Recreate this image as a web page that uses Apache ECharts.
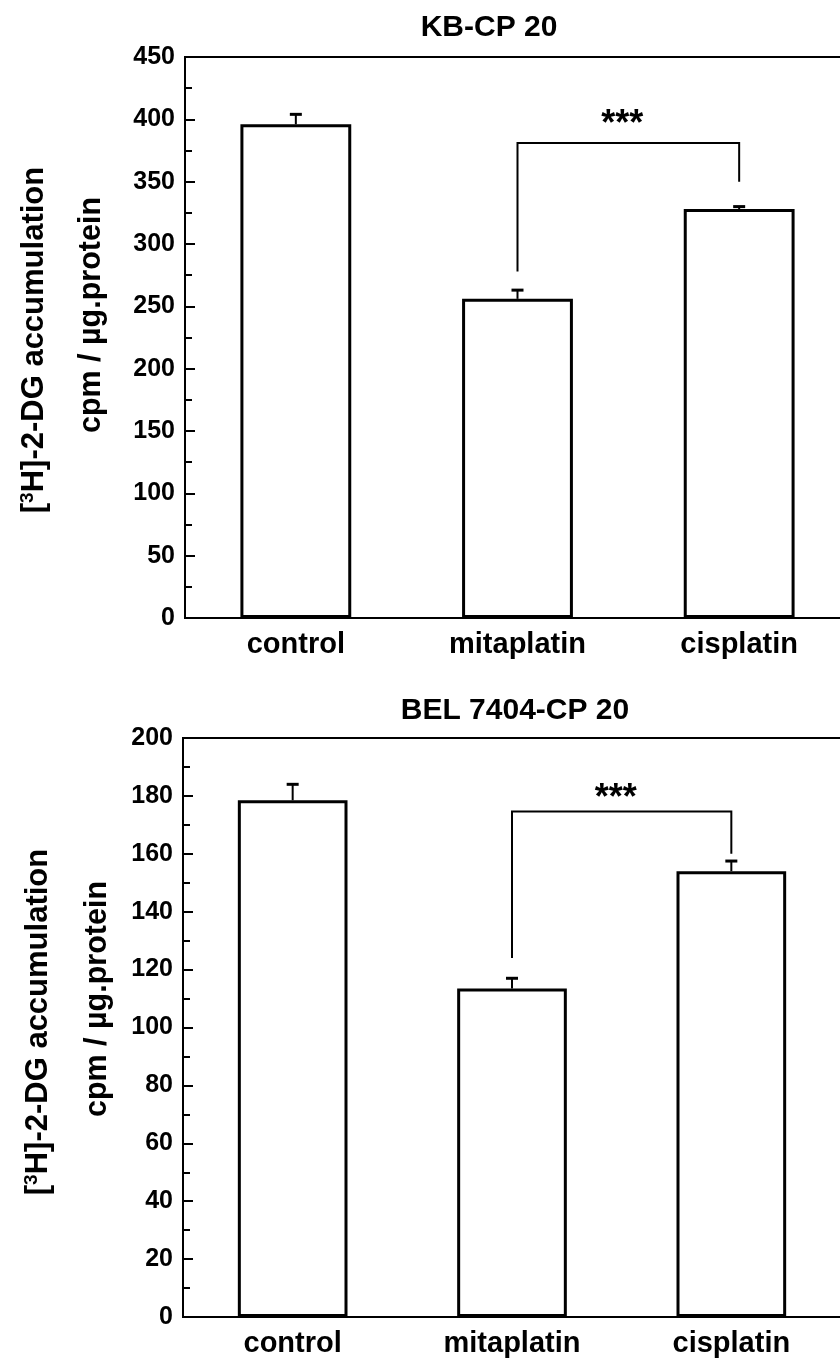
<!DOCTYPE html>
<html>
<head>
<meta charset="utf-8">
<style>
  html, body { margin: 0; padding: 0; background: #fff; }
  #chart { width: 840px; height: 1359px; }
</style>
<script src="https://cdn.jsdelivr.net/npm/echarts@6/dist/echarts.min.js"></script>
</head>
<body>
<div id="chart"></div>
<script>
// ---- data ----
const categories = ['control', 'mitaplatin', 'cisplatin'];

const kbTitle = 'KB-CP 20';
const kbValues = [396, 256, 328];
const kbErrors = [8, 7, 2];
// bracket: [fromIndex, toIndex, leftEnd, top, rightEnd, starsLevel]
const kbBracket = [1, 2, 278, 381, 350, 402];

const belTitle = 'BEL 7404-CP 20';
const belValues = [178.5, 113.5, 154];
const belErrors = [5.5, 3.5, 3.5];
const belBracket = [1, 2, 124, 174.6, 160, 181.5];

const kbAxis = { min: 0, max: 450, interval: 50 };
const belAxis = { min: 0, max: 200, interval: 20 };

const yLabelLine1 = '[{sup|3}H]-2-DG accumulation';
const yLabelLine2 = 'cpm / \u00b5g.protein';
const sigText = '***';

// ---- styles ----
const FONT = "'Liberation Sans', Arial, Helvetica, sans-serif";

const chart = echarts.init(document.getElementById('chart'), null, { renderer: 'canvas' });

function makeX(gridIndex) {
  return {
    type: 'category', gridIndex: gridIndex, data: categories,
    boundaryGap: true,
    axisLine: { show: true, lineStyle: { color: '#000', width: 2 } },
    axisTick: { show: false },
    axisLabel: { color: '#000', fontFamily: FONT, fontWeight: 'bold', fontSize: 29, margin: 12 },
    splitLine: { show: false }
  };
}
function makeY(gridIndex, ax) {
  return {
    type: 'value', gridIndex: gridIndex, min: ax.min, max: ax.max, interval: ax.interval,
    axisLine: { show: true, lineStyle: { color: '#000', width: 2 } },
    axisTick: { show: true, inside: true, length: 10, lineStyle: { color: '#000', width: 2 } },
    minorTick: { show: true, splitNumber: 2, length: 7, lineStyle: { color: '#000', width: 2 } },
    axisLabel: { color: '#000', fontFamily: FONT, fontWeight: 'bold', fontSize: 25, margin: 10 },
    splitLine: { show: false }
  };
}
function barSeries(i, values) {
  return {
    type: 'bar', xAxisIndex: i, yAxisIndex: i, data: values, barWidth: '50%',
    itemStyle: { color: '#fff', borderColor: '#000', borderWidth: 3 },
    silent: true, z: 2
  };
}
function errorSeries(i, values, errors) {
  return {
    type: 'custom', xAxisIndex: i, yAxisIndex: i, z: 3, silent: true,
    data: values.map((v, k) => [k, v, errors[k]]),
    renderItem: function (params, api) {
      const base = api.coord([api.value(0), api.value(1)]);
      const top = api.coord([api.value(0), api.value(1) + api.value(2)]);
      const half = 6;
      return {
        type: 'group',
        children: [
          { type: 'line', shape: { x1: base[0], y1: base[1], x2: top[0], y2: top[1] },
            style: { stroke: '#000', lineWidth: 2 } },
          { type: 'line', shape: { x1: top[0] - half, y1: top[1], x2: top[0] + half, y2: top[1] },
            style: { stroke: '#000', lineWidth: 3 } }
        ]
      };
    }
  };
}
function bracketSeries(i, b) {
  return {
    type: 'custom', xAxisIndex: i, yAxisIndex: i, z: 4, silent: true,
    data: [b],
    renderItem: function (params, api) {
      const from = api.value(0), to = api.value(1);
      const p1 = api.coord([from, api.value(2)]);
      const p2 = api.coord([from, api.value(3)]);
      const p3 = api.coord([to, api.value(3)]);
      const p4 = api.coord([to, api.value(4)]);
      const s = api.coord([from, api.value(5)]);
      const midX = (p2[0] + p3[0]) / 2;
      return {
        type: 'group',
        children: [
          { type: 'polyline', shape: { points: [p1, p2, p3, p4] },
            style: { stroke: '#000', lineWidth: 2, fill: null } },
          { type: 'text', x: midX - 6, y: s[1] + 8,
            style: { text: sigText, font: 'bold 36px ' + FONT, fill: '#000', align: 'center', verticalAlign: 'middle' } }
        ]
      };
    }
  };
}

function yLabel(x, y, text, size, rich) {
  return {
    type: 'text', x: x, y: y, rotation: Math.PI / 2,
    style: {
      text: text, fill: '#000', font: 'bold ' + size + 'px ' + FONT,
      align: 'center', verticalAlign: 'middle',
      rich: rich || undefined
    }
  };
}
const supRich = { sup: { fontSize: 19, fontWeight: 'bold', fontFamily: FONT, verticalAlign: 'top', fill: '#000' } };

const option = {
  backgroundColor: '#fff',
  animation: false,
  grid: [
    { left: 185, top: 57, width: 665, height: 561, outerBoundsMode: 'none', containLabel: false,
      show: true, borderColor: '#000', borderWidth: 2, backgroundColor: 'transparent' },
    { left: 183, top: 738, width: 658, height: 579, outerBoundsMode: 'none', containLabel: false,
      show: true, borderColor: '#000', borderWidth: 2, backgroundColor: 'transparent' }
  ],
  xAxis: [makeX(0), makeX(1)],
  yAxis: [makeY(0, kbAxis), makeY(1, belAxis)],
  series: [
    barSeries(0, kbValues), errorSeries(0, kbValues, kbErrors), bracketSeries(0, kbBracket),
    barSeries(1, belValues), errorSeries(1, belValues, belErrors), bracketSeries(1, belBracket)
  ],
  graphic: [
    { type: 'text', x: 489, y: 28, style: { text: kbTitle, font: 'bold 30px ' + FONT, fill: '#000', align: 'center', verticalAlign: 'middle' } },
    { type: 'text', x: 515, y: 711, style: { text: belTitle, font: 'bold 30px ' + FONT, fill: '#000', align: 'center', verticalAlign: 'middle' } },
    yLabel(34, 340, yLabelLine1, 31, supRich),
    yLabel(92, 315, yLabelLine2, 30.5),
    yLabel(38, 1022, yLabelLine1, 31, supRich),
    yLabel(98, 999, yLabelLine2, 30.5)
  ]
};
chart.setOption(option);
</script>
</body>
</html>
